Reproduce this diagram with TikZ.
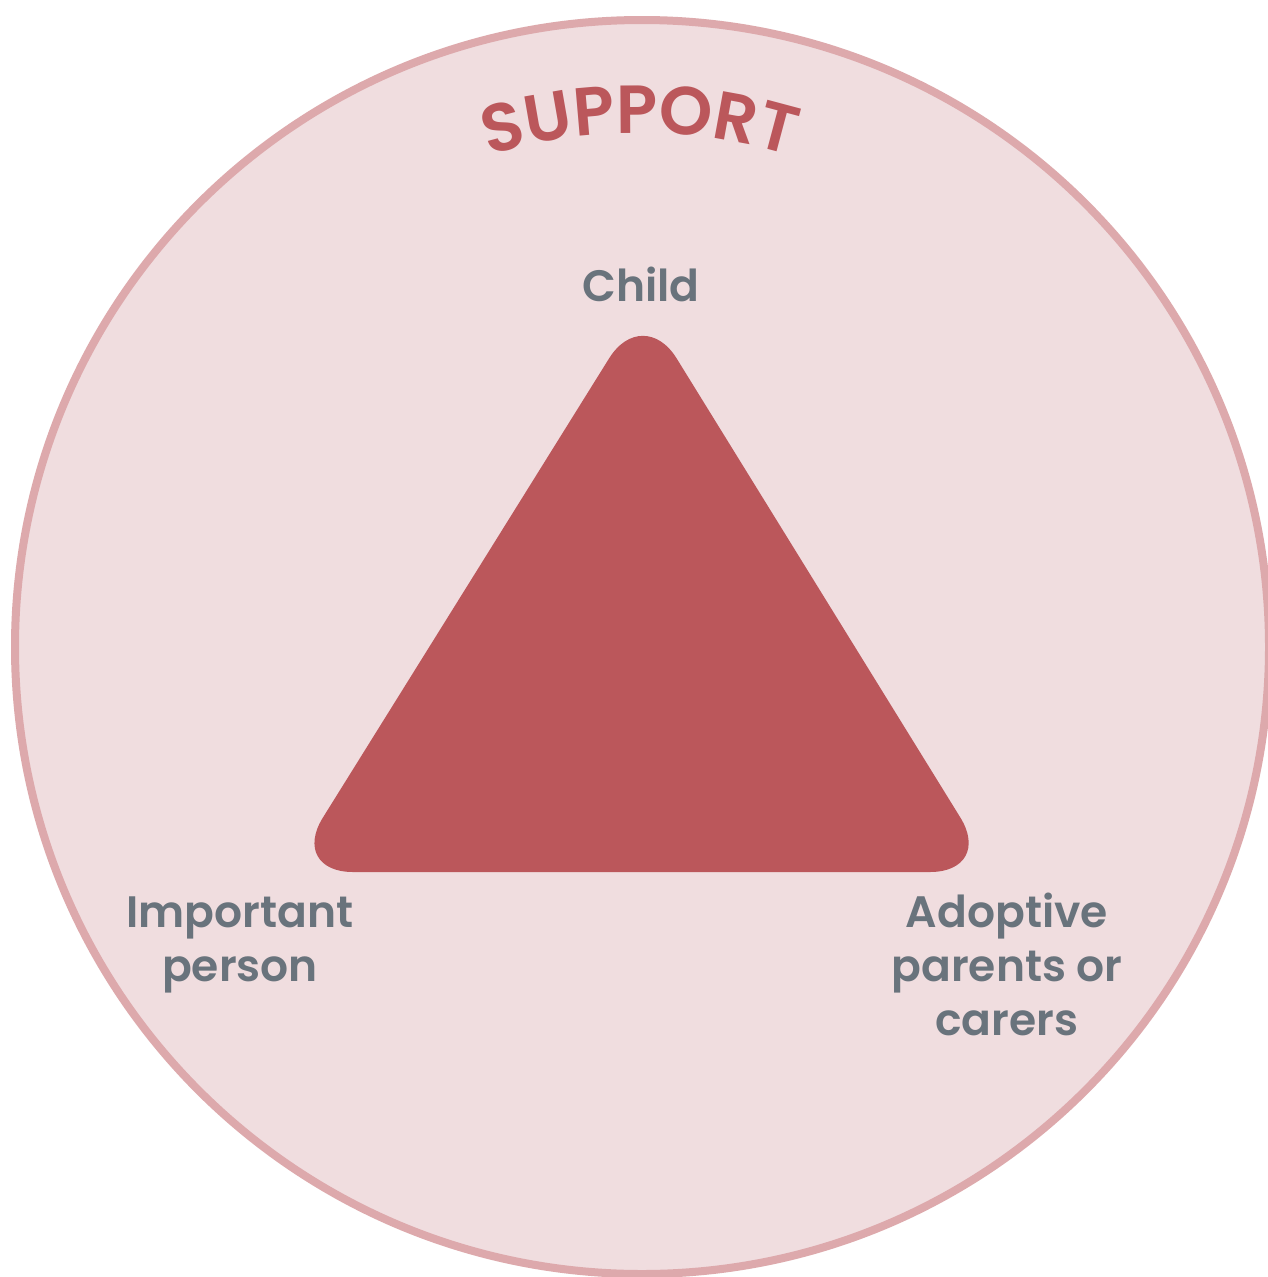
\documentclass[tikz,border=0pt]{standalone}
\usepackage{fontspec}
\setmainfont{Poppins}
\newfontfamily\lblfont{Poppins}[UprightFont=* SemiBold]
\usetikzlibrary{decorations.text}
\definecolor{circfill}{HTML}{F0DDDF}
\definecolor{circline}{HTML}{DDA9AC}
\definecolor{trired}{HTML}{BB575B}
\definecolor{lblgray}{HTML}{69737C}
\newcommand{\supfnt}{\lblfont\fontsize{68}{68}\selectfont}
\begin{document}
\begin{tikzpicture}[x=1pt,y=1pt,
  lbl/.style={font=\lblfont\fontsize{44}{55}\selectfont, text=lblgray, align=center, inner sep=0pt},
  tri/.style={fill=trired, rounded corners=64pt}]
\useasboundingbox (0,0) rectangle (1268,-1277);
\fill[white] (0,0) rectangle (1268,-1277);
\node[circle, draw=circline, fill=circfill, line width=8pt, minimum size=1254pt, inner sep=0pt] (circ) at (642,-647) {};
\coordinate (apex) at (643,-304);
\coordinate (bl) at (289,-872);
\coordinate (br) at (994,-872);
\fill[tri] (apex) -- (br) -- (bl) -- cycle;
\path[decorate, decoration={text along path, text align=center, text color=trired, text={|\supfnt|SUPPORT}}]
  (640,-647) ++(122:514) arc[start angle=122, end angle=58, radius=514];
\node[lbl, anchor=base] (child) at (641,-301) {Child};
\node[lbl, anchor=base] (imp) at (240,-927) {Important};
\node[lbl, anchor=base] (imp2) at (240,-981) {person};
\node[lbl, anchor=base] (ado) at (1007,-927) {Adoptive};
\node[lbl, anchor=base] (ado2) at (1007,-981) {parents or};
\node[lbl, anchor=base] (ado3) at (1007,-1035) {carers};
\end{tikzpicture}
\end{document}
